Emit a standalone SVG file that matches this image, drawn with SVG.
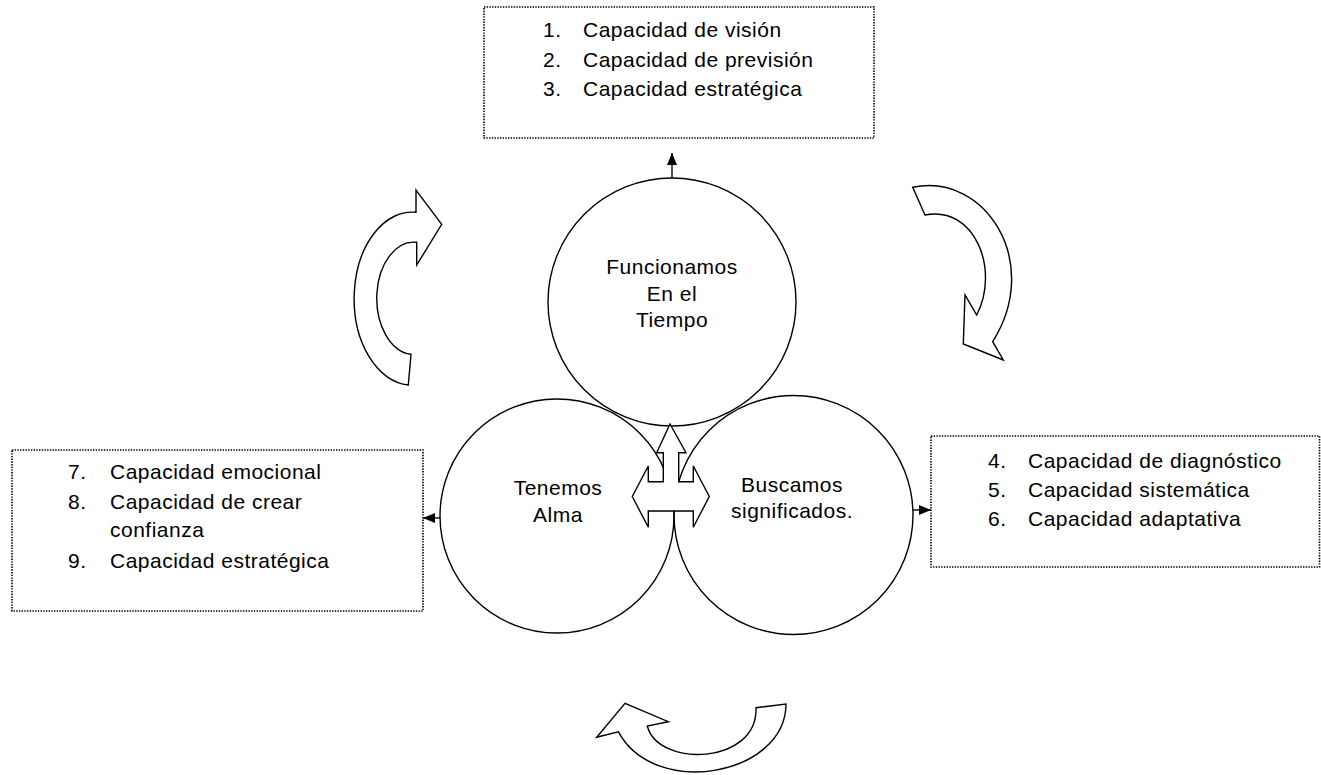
<svg xmlns="http://www.w3.org/2000/svg" width="1321" height="775" viewBox="0 0 1321 775">
  <style>
    .box { fill: #ffffff; stroke: #000000; stroke-width: 1.6; stroke-dasharray: 1.4 1.3; }
    .ring { fill: none; stroke: #000000; stroke-width: 1.4; }
    .shape { fill: #ffffff; stroke: #000000; stroke-width: 1.4; stroke-linejoin: miter; }
    .link { fill: none; stroke: #000000; stroke-width: 1.4; }
    text { font-family: "Liberation Sans", Arial, sans-serif; font-size: 21px; letter-spacing: 0.5px; fill: #000000; }
    .mid { text-anchor: middle; }
  </style>
  <defs>
    <marker id="head" viewBox="0 0 12 10" refX="12" refY="5" markerWidth="12" markerHeight="10" markerUnits="userSpaceOnUse" orient="auto">
      <path d="M0,0 L12,5 L0,10 Z" fill="#000000"/>
    </marker>
  </defs>

  <rect width="1321" height="775" fill="#ffffff"/>

  <!-- capability lists -->
  <g id="box-top">
    <rect class="box" x="484" y="7" width="390" height="131"/>
    <text x="543" y="37">1.</text><text x="583" y="37">Capacidad de visión</text>
    <text x="543" y="66.5">2.</text><text x="583" y="66.5">Capacidad de previsión</text>
    <text x="543" y="96">3.</text><text x="583" y="96">Capacidad estratégica</text>
  </g>

  <g id="box-right">
    <rect class="box" x="931" y="436" width="388.5" height="131"/>
    <text x="988" y="468">4.</text><text x="1028" y="468">Capacidad de diagnóstico</text>
    <text x="988" y="497">5.</text><text x="1028" y="497">Capacidad sistemática</text>
    <text x="988" y="526">6.</text><text x="1028" y="526">Capacidad adaptativa</text>
  </g>

  <g id="box-left">
    <rect class="box" x="12" y="450" width="411" height="161"/>
    <text x="68" y="479">7.</text><text x="110" y="479">Capacidad emocional</text>
    <text x="68" y="508.5">8.</text><text x="110" y="508.5">Capacidad de crear</text>
    <text x="110" y="537">confianza</text>
    <text x="68" y="567.5">9.</text><text x="110" y="567.5">Capacidad estratégica</text>
  </g>

  <!-- the three circles -->
  <g id="circle-tiempo">
    <circle class="ring" cx="672" cy="302" r="124"/>
    <text class="mid" x="672" y="274">Funcionamos</text>
    <text class="mid" x="672" y="301">En el</text>
    <text class="mid" x="672" y="327">Tiempo</text>
  </g>

  <g id="circle-alma">
    <circle class="ring" cx="557" cy="516" r="117"/>
    <text class="mid" x="558" y="495">Tenemos</text>
    <text class="mid" x="558" y="521.5">Alma</text>
  </g>

  <g id="circle-significados">
    <circle class="ring" cx="793.5" cy="515" r="119.5"/>
    <text class="mid" x="792" y="492">Buscamos</text>
    <text class="mid" x="792" y="518">significados.</text>
  </g>

  <!-- three-way block arrow between the circles -->
  <g id="center-arrow">
    <path class="shape" d="M670,424 L686,452.7 L678.7,452.7 L678.7,481.7 L693.3,481.7 L693.3,466 L709.3,496.5 L693.3,527.3 L693.3,511 L648.3,511 L648.3,527.3 L632.3,496.5 L648.3,466 L648.3,481.7 L663.3,481.7 L663.3,452.7 L656.7,452.7 Z"/>
  </g>

  <!-- curved cycle arrows -->
  <g id="cycle-left">
    <path class="shape" d="M441.7,224.3 L416,190 L416,212.3 A58 86.5 0 0 0 408.3,385 L411,354.3 A37 56 0 0 1 416.7,242.3 L416.7,265 Z"/>
  </g>
  <g id="cycle-right">
    <path class="shape" d="M912.7,187.3 C985,172 1043,262 992.7,341.7 L1003.3,360 L963.3,344 L965,295 L976.7,315 C1000,270 975,205 925,215 Z"/>
  </g>
  <g id="cycle-bottom">
    <path class="shape" d="M786,704 C786,775 655,800 618.3,731.7 L596.7,737.3 L625,703.3 L668.3,721.7 L647.3,726 C658,768 758,765 756,707.7 Z"/>
  </g>

  <!-- connectors from circles to their lists -->
  <g id="connectors">
    <line class="link" x1="672" y1="178" x2="672" y2="153" marker-end="url(#head)"/>
    <line class="link" x1="440" y1="518" x2="423" y2="518" marker-end="url(#head)"/>
    <line class="link" x1="913" y1="510" x2="931" y2="510" marker-end="url(#head)"/>
  </g>
</svg>
